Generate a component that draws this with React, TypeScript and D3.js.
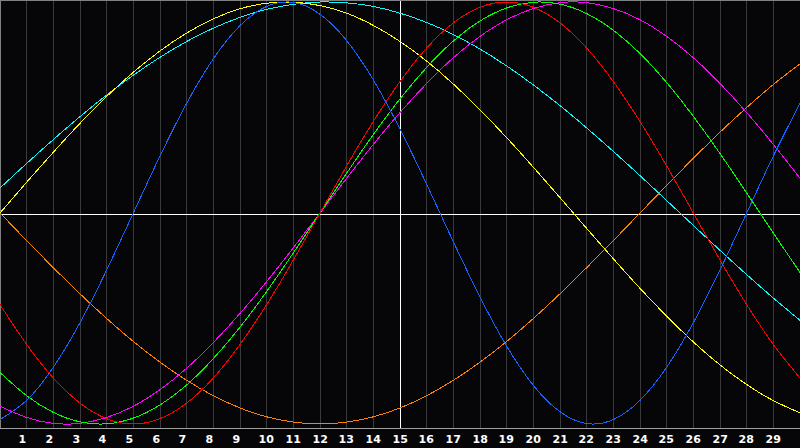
import React from 'react';
import * as d3 from 'd3';

const WIDTH = 800;
const HEIGHT = 448;
const PLOT_BOTTOM = 428;

// days along the bottom
const days = d3.range(0, 31);
const dayLabels = d3.range(1, 30);
const todayMark = 15;

// cycle values per day (day 0 .. day 30), in percent
const physical = [-97.9, -88.8, -73.1, -52.0, -27.0, 0, 27.0, 52.0, 73.1, 88.8, 97.9, 99.8, 94.2, 81.7, 63.1, 39.8, 13.6, -13.6, -39.8, -63.1, -81.7, -94.2, -99.8, -97.9, -88.8, -73.1, -52.0, -27.0, 0, 27.0, 52.0];
const emotional = [-43.4, -62.3, -78.2, -90.1, -97.5, -100, -97.5, -90.1, -78.2, -62.3, -43.4, -22.3, 0, 22.3, 43.4, 62.3, 78.2, 90.1, 97.5, 100, 97.5, 90.1, 78.2, 62.3, 43.4, 22.3, 0, -22.3, -43.4, -62.3, -78.2];
const intellectual = [-75.6, -86.6, -94.5, -99.0, -99.9, -97.2, -91.0, -81.5, -69.0, -54.1, -37.2, -18.9, 0, 18.9, 37.2, 54.1, 69.0, 81.5, 91.0, 97.2, 99.9, 99.0, 94.5, 86.6, 75.6, 61.8, 45.8, 28.2, 9.5, -9.5, -28.2];
const intuitive = [-91.6, -96.9, -99.7, -99.7, -96.9, -91.6, -83.7, -73.6, -61.4, -47.6, -32.5, -16.5, 0, 16.5, 32.5, 47.6, 61.4, 73.6, 83.7, 91.6, 96.9, 99.7, 99.7, 96.9, 91.6, 83.7, 73.6, 61.4, 47.6, 32.5, 16.5];
const aesthetic = [0, 14.6, 28.8, 42.5, 55.2, 66.7, 76.8, 85.3, 92.0, 96.8, 99.4, 99.9, 98.3, 94.7, 88.9, 81.3, 72.0, 61.1, 48.9, 35.7, 21.7, 7.3, -7.3, -21.7, -35.7, -48.9, -61.1, -72.0, -81.3, -88.9, -94.7];
const awareness = [0, -13.1, -25.9, -38.3, -50.0, -60.9, -70.7, -79.3, -86.6, -92.4, -96.6, -99.1, -100, -99.1, -96.6, -92.4, -86.6, -79.3, -70.7, -60.9, -50.0, -38.3, -25.9, -13.1, 0, 13.1, 25.9, 38.3, 50.0, 60.9, 70.7];
const spiritual = [11.8, 23.5, 34.8, 45.7, 55.9, 65.3, 73.8, 81.3, 87.6, 92.7, 96.5, 98.9, 100.0, 99.6, 97.9, 94.7, 90.3, 84.6, 77.7, 69.7, 60.7, 50.9, 40.3, 29.2, 17.7, 5.9, -5.9, -17.7, -29.2, -40.3, -50.9];

const series = [
  { name: 'spiritual', values: spiritual, color: '#00ffff' },
  { name: 'awareness', values: awareness, color: '#ff8000' },
  { name: 'aesthetic', values: aesthetic, color: '#ffff00' },
  { name: 'intuitive', values: intuitive, color: '#ff00ff' },
  { name: 'intellectual', values: intellectual, color: '#00ff00' },
  { name: 'emotional', values: emotional, color: '#ff0000' },
  { name: 'physical', values: physical, color: '#1464ff' },
];

export default function App() {
  const x = d3.scaleLinear().domain([0, 30]).range([0, WIDTH]);
  const y = d3.scaleLinear().domain([-100, 100]).range([424, 2]);

  const line = d3
    .line<number>()
    .x((_, i) => x(days[i]))
    .y((d) => y(d))
    .curve(d3.curveNatural);

  const px = (d: number) => Math.floor(x(d)) + 0.5;

  return (
    <svg
      width={WIDTH}
      height={HEIGHT}
      style={{ position: 'absolute', left: 0, top: 0, display: 'block', background: '#060608' }}
    >
      <rect x={0} y={0} width={WIDTH} height={HEIGHT} fill="#060608" />

      {/* day grid */}
      {dayLabels.map((d) => (
        <line
          key={'g' + d}
          x1={px(d)}
          x2={px(d)}
          y1={0}
          y2={PLOT_BOTTOM}
          stroke={d === todayMark ? '#ffffff' : '#3a3a3c'}
          strokeWidth={1}
          shapeRendering="crispEdges"
        />
      ))}

      {/* zero line */}
      <line x1={0} x2={WIDTH} y1={214.5} y2={214.5} stroke="#ffffff" shapeRendering="crispEdges" />

      {/* frame */}
      <line x1={0} x2={WIDTH} y1={0.5} y2={0.5} stroke="#808080" shapeRendering="crispEdges" />
      <line x1={0.5} x2={0.5} y1={0} y2={PLOT_BOTTOM} stroke="#808080" shapeRendering="crispEdges" />
      <line x1={0} x2={WIDTH} y1={PLOT_BOTTOM + 0.5} y2={PLOT_BOTTOM + 0.5} stroke="#a0a0a0" shapeRendering="crispEdges" />

      {/* cycles */}
      <g>
        {series.map((s) => (
          <path
            key={s.name}
            d={line(s.values) ?? ''}
            fill="none"
            stroke={s.color}
            strokeWidth={1}
            shapeRendering="crispEdges"
          />
        ))}
      </g>

      {/* day labels */}
      {dayLabels.map((d) => (
        <text
          key={'t' + d}
          x={Math.floor(x(d)) - 7.5}
          y={443}
          fill="#ffffff"
          fontFamily="'DejaVu Sans', sans-serif"
          fontWeight="bold"
          fontSize={11}
        >
          {d}
        </text>
      ))}
    </svg>
  );
}
